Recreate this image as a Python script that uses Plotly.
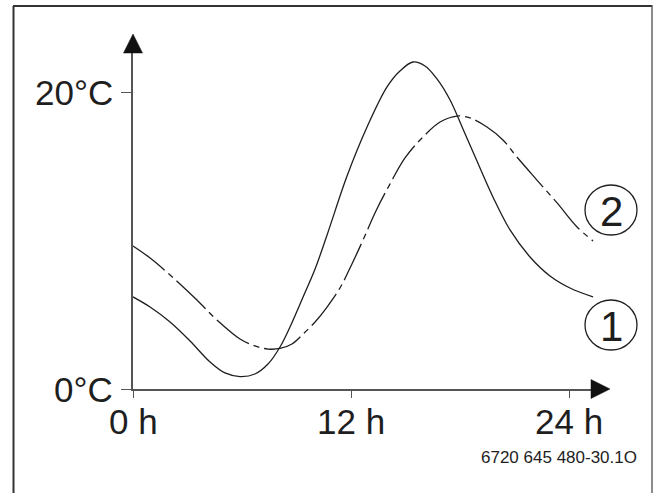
import plotly.graph_objects as go

# ---- data (hours, °C) ----
hours_1 = [0.00, 0.94, 2.04, 3.14, 4.24, 5.06, 5.89, 6.71, 7.43, 8.09, 8.64, 9.36,
           10.02, 10.68, 11.78, 12.88, 13.98, 14.69, 15.41, 16.07, 16.73, 17.45,
           18.16, 18.93, 19.81, 20.75, 21.85, 22.95, 24.05, 25.32]
temp_1 = [6.20, 5.52, 4.51, 3.23, 1.82, 1.08, 0.84, 1.01, 1.68, 2.83, 4.18, 6.20,
          8.08, 10.37, 14.34, 17.64, 20.34, 21.41, 22.02, 21.75, 20.88, 19.46,
          17.51, 15.35, 12.93, 10.71, 8.89, 7.61, 6.80, 6.20]

hours_2 = [0.00, 0.94, 2.04, 3.52, 4.62, 5.89, 6.71, 7.43, 8.09, 8.75, 9.36, 10.02,
           10.68, 11.39, 12.05, 12.71, 13.37, 14.14, 14.97, 15.96, 16.90, 17.83,
           18.55, 19.48, 20.36, 21.13, 22.23, 23.34, 24.44, 25.32]
temp_2 = [9.63, 8.82, 7.68, 5.99, 4.65, 3.37, 2.90, 2.69, 2.73, 3.03, 3.70, 4.51,
          5.52, 6.80, 8.42, 10.17, 11.99, 13.80, 15.56, 16.97, 17.98, 18.38,
          18.25, 17.64, 16.77, 15.62, 14.07, 12.53, 10.91, 9.97]

x_tick_vals = [0, 12, 24]
x_tick_text = ["0 h", "12 h", "24 h"]
y_tick_vals = [0, 20]
y_tick_text = ["0°C", "20°C"]
curve_labels = ["1", "2"]
figure_code = "6720 645 480-30.1O"

# ---- layout geometry (pixels) ----
W, H = 655, 493
L, R, T, B = 133, 595, 50, 389          # plot area in pixels
XMAX = (R - L) / 18.17
YMAX = (B - T) / 14.85


def px(xp):
    return (xp - L) / (R - L)


def py(yp):
    return (B - yp) / (B - T)


FONT = "Liberation Sans, Arial, Helvetica, sans-serif"
INK = "#1e1e1e"
AXIS = "#555555"

fig = go.Figure()
fig.add_trace(go.Scatter(
    x=hours_1, y=temp_1, mode="lines", cliponaxis=False,
    line=dict(color=INK, width=1.3, shape="spline", smoothing=1.0),
    showlegend=False, hoverinfo="skip"))
fig.add_trace(go.Scatter(
    x=hours_2, y=temp_2, mode="lines", cliponaxis=False,
    line=dict(color=INK, width=1.3, shape="spline", smoothing=1.0,
              dash="40px,5px,6px,5px"),
    showlegend=False, hoverinfo="skip"))

shapes = []
# outer frame (left, top, right; open at the bottom)
shapes.append(dict(type="line", xref="paper", yref="paper",
                   x0=px(13.5), x1=px(13.5), y0=py(6), y1=py(H + 5),
                   line=dict(color="#333", width=2)))
shapes.append(dict(type="line", xref="paper", yref="paper",
                   x0=px(13), x1=px(652.5), y0=py(6), y1=py(6),
                   line=dict(color="#333", width=2.2)))
shapes.append(dict(type="line", xref="paper", yref="paper",
                   x0=px(652), x1=px(652), y0=py(6), y1=py(H + 5),
                   line=dict(color="#666", width=1.5)))
# arrow heads
shapes.append(dict(type="path", xref="paper", yref="paper",
                   path=f"M {px(123.5)} {py(53)} L {px(133)} {py(34)} L {px(142.5)} {py(53)} Z",
                   fillcolor="#111", line=dict(color="#111", width=0.5)))
shapes.append(dict(type="path", xref="paper", yref="paper",
                   path=f"M {px(591)} {py(379.5)} L {px(610)} {py(389)} L {px(591)} {py(398.5)} Z",
                   fillcolor="#111", line=dict(color="#111", width=0.5)))
# circles around labels
centers = (325, 210)
for cy in centers:
    shapes.append(dict(type="circle", xref="paper", yref="paper",
                       x0=px(585), x1=px(637), y0=py(cy - 25), y1=py(cy + 25),
                       line=dict(color=INK, width=1.3)))

annotations = []
for lab, cy in zip(curve_labels, centers):
    annotations.append(dict(xref="paper", yref="paper", x=px(611.5), y=py(cy + 1),
                            text=lab, showarrow=False, xanchor="center", yanchor="middle",
                            font=dict(family=FONT, size=42, color=INK)))
# axis tick labels placed at the tick values
for v, t in zip(x_tick_vals, x_tick_text):
    annotations.append(dict(xref="x", yref="paper", x=v, y=py(421),
                            text=t, showarrow=False, xanchor="center", yanchor="middle",
                            font=dict(family=FONT, size=35, color=INK)))
for v, t in zip(y_tick_vals, y_tick_text):
    annotations.append(dict(xref="paper", yref="y", x=px(115), y=v,
                            text=t, showarrow=False, xanchor="right", yanchor="middle",
                            font=dict(family=FONT, size=35, color=INK)))
annotations.append(dict(xref="paper", yref="paper", x=px(639), y=py(457),
                        text=figure_code, showarrow=False, xanchor="right", yanchor="middle",
                        font=dict(family=FONT, size=17, color=INK)))

fig.update_layout(
    width=W, height=H,
    margin=dict(l=L, r=W - R, t=T, b=H - B, pad=0),
    paper_bgcolor="white", plot_bgcolor="white",
    shapes=shapes, annotations=annotations,
    xaxis=dict(range=[0, XMAX], showgrid=False, zeroline=False,
               showline=True, linecolor=AXIS, linewidth=1.5,
               ticks="outside", ticklen=7, tickwidth=1.2, tickcolor=AXIS,
               tickvals=x_tick_vals, showticklabels=False),
    yaxis=dict(range=[0, YMAX], showgrid=False, zeroline=False,
               showline=True, linecolor=AXIS, linewidth=1.5,
               ticks="outside", ticklen=10, tickwidth=1.2, tickcolor=AXIS,
               tickvals=y_tick_vals, showticklabels=False),
)

fig.write_html("out.html", config={"displayModeBar": False},
               post_script="document.body.style.margin='0';")
